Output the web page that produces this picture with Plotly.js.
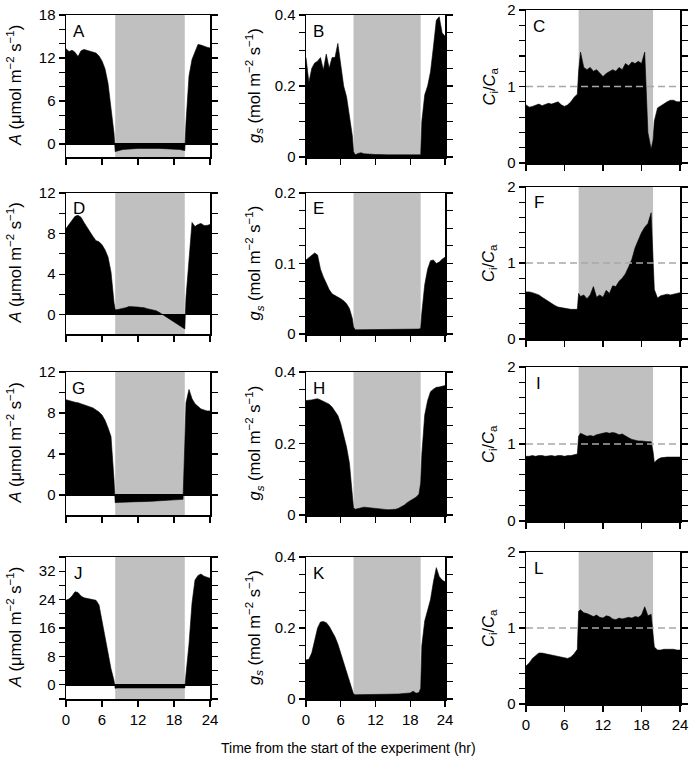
<!DOCTYPE html>
<html>
<head>
<meta charset="utf-8">
<script src="https://cdn.plot.ly/plotly-3.0.1.min.js"></script>
<style>
  body { margin: 0; background: #fff; }
  #chart { width: 696px; height: 766px; }
</style>
</head>
<body>
<div id="chart"></div>
<script>
"use strict";

// time from start of the experiment (hr), shared by all panels
var hours = [0,0.5,1,1.5,2,2.5,3,3.5,4,4.5,5,5.5,6,6.5,7,7.5,8,
  8.2,
  8.5,9,9.5,10,10.5,11,11.5,12,12.5,13,13.5,14,14.5,15,15.5,16,16.5,17,17.5,18,18.5,19,19.5,
  19.8,
  20,20.5,21,21.5,22,22.5,23,23.5,24];

// dark period (grey band)
var darkStart = 8.2;
var darkEnd = 19.8;

// A, D, G, J : net assimilation (umol m-2 s-1)
var assimA = [13.3,12.9,13.1,12.8,12.2,13.0,13.2,13.1,13.0,12.9,12.7,12.3,11.6,10.5,8.5,5.0,1.5,
  -1.05,
  -0.95,-0.85,-0.75,-0.7,-0.7,-0.65,-0.65,-0.6,-0.6,-0.62,-0.6,-0.6,-0.62,-0.6,-0.6,-0.62,-0.65,-0.65,-0.68,-0.7,-0.7,-0.75,-0.85,
  -0.9,
  3.0,9.5,11.8,13.0,13.9,13.8,13.6,13.5,13.4];
var assimD = [8.5,8.9,9.3,9.7,9.8,9.6,9.1,8.6,8.2,7.7,7.3,7.2,6.9,6.4,5.7,4.2,1.2,
  0.5,
  0.5,0.55,0.65,0.7,0.8,0.8,0.8,0.75,0.72,0.7,0.6,0.55,0.45,0.4,0.25,0.05,-0.1,-0.3,-0.5,-0.7,-0.9,-1.1,-1.3,
  -1.4,
  1.7,5.8,9.1,8.7,8.9,9.0,8.8,8.8,8.9];
var assimG = [9.3,9.2,9.1,9.05,9.0,8.9,8.85,8.75,8.65,8.5,8.3,8.1,7.8,7.3,6.55,5.7,1.5,
  -0.75,
  -0.72,-0.7,-0.7,-0.68,-0.68,-0.66,-0.66,-0.65,-0.65,-0.62,-0.62,-0.6,-0.6,-0.58,-0.56,-0.55,-0.52,-0.5,-0.5,-0.47,-0.45,-0.45,-0.42,
  5.0,
  9.0,10.3,9.4,8.9,8.6,8.4,8.3,8.2,8.2];
var assimJ = [23.8,24.2,25.0,26.2,26.0,25.0,24.5,24.3,24.2,24.1,23.8,22.5,18.0,13.6,8.2,4.5,1.2,
  -1.0,
  -0.9,-0.9,-0.85,-0.85,-0.8,-0.8,-0.8,-0.8,-0.75,-0.75,-0.8,-0.8,-0.8,-0.75,-0.75,-0.8,-0.8,-0.8,-0.85,-0.85,-0.85,-0.9,-0.9,
  -0.9,
  3.0,11.5,23.0,29.5,30.8,31.2,30.6,30.2,30.0];

// B, E, H, K : stomatal conductance (mol m-2 s-1)
var condB = [0.28,0.21,0.25,0.265,0.27,0.28,0.245,0.29,0.25,0.28,0.28,0.32,0.26,0.2,0.17,0.12,0.06,
  0.015,
  0.006,0.01,0.012,0.009,0.008,0.007,0.007,0.007,0.007,0.006,0.006,0.006,0.006,0.006,0.006,0.005,0.005,0.005,0.005,0.005,0.005,0.005,0.005,
  0.006,
  0.1,0.175,0.2,0.24,0.31,0.385,0.395,0.35,0.34];
var condE = [0.105,0.108,0.112,0.115,0.112,0.092,0.081,0.072,0.063,0.057,0.055,0.053,0.05,0.047,0.043,0.036,0.022,
  0.01,
  0.006,0.006,0.006,0.007,0.007,0.007,0.007,0.007,0.007,0.007,0.007,0.007,0.007,0.007,0.007,0.006,0.006,0.006,0.006,0.006,0.007,0.007,0.007,
  0.008,
  0.03,0.07,0.092,0.104,0.105,0.1,0.102,0.106,0.109];
var condH = [0.32,0.32,0.322,0.324,0.325,0.322,0.318,0.315,0.31,0.302,0.29,0.278,0.255,0.225,0.19,0.145,0.055,
  0.02,
  0.016,0.018,0.021,0.022,0.021,0.02,0.018,0.017,0.016,0.015,0.015,0.015,0.015,0.015,0.016,0.019,0.023,0.028,0.035,0.04,0.045,0.05,0.058,
  0.09,
  0.17,0.28,0.32,0.345,0.352,0.357,0.358,0.36,0.362];
var condK = [0.11,0.112,0.13,0.165,0.2,0.217,0.218,0.215,0.205,0.19,0.175,0.155,0.13,0.105,0.08,0.052,0.025,
  0.014,
  0.012,0.012,0.012,0.013,0.012,0.013,0.012,0.013,0.013,0.013,0.013,0.014,0.013,0.014,0.014,0.014,0.015,0.015,0.016,0.017,0.022,0.016,0.018,
  0.03,
  0.15,0.22,0.25,0.28,0.33,0.37,0.345,0.335,0.33];

// C, F, I, L : Ci/Ca
var ratioC = [0.76,0.73,0.74,0.76,0.77,0.75,0.76,0.78,0.77,0.78,0.8,0.76,0.74,0.76,0.8,0.86,0.9,
  1.2,
  1.45,1.25,1.22,1.25,1.2,1.22,1.17,1.13,1.17,1.2,1.22,1.2,1.25,1.22,1.3,1.27,1.32,1.3,1.33,1.3,1.45,0.4,0.18,
  0.3,
  0.55,0.72,0.75,0.78,0.8,0.82,0.82,0.8,0.8];
var ratioF = [0.62,0.62,0.61,0.6,0.58,0.55,0.52,0.49,0.46,0.44,0.42,0.41,0.4,0.39,0.39,0.39,0.39,
  0.6,
  0.56,0.58,0.53,0.58,0.69,0.55,0.58,0.55,0.64,0.6,0.7,0.69,0.76,0.8,0.86,0.95,1.05,1.2,1.3,1.4,1.47,1.52,1.66,
  1.1,
  0.65,0.54,0.57,0.58,0.59,0.58,0.59,0.6,0.61];
var ratioI = [0.84,0.84,0.85,0.84,0.85,0.85,0.84,0.85,0.85,0.84,0.85,0.85,0.84,0.85,0.85,0.86,0.87,
  1.1,
  1.14,1.12,1.1,1.11,1.1,1.12,1.13,1.14,1.15,1.14,1.15,1.14,1.12,1.13,1.1,1.08,1.06,1.05,1.04,1.04,1.03,1.03,1.03,
  0.9,
  0.76,0.8,0.82,0.83,0.83,0.83,0.83,0.83,0.83];
var ratioL = [0.5,0.54,0.6,0.64,0.67,0.67,0.66,0.66,0.65,0.64,0.63,0.61,0.6,0.6,0.62,0.66,0.72,
  1.22,
  1.24,1.2,1.19,1.17,1.15,1.17,1.14,1.13,1.16,1.15,1.12,1.11,1.13,1.12,1.13,1.14,1.13,1.15,1.14,1.17,1.28,1.16,1.18,
  0.85,
  0.75,0.71,0.71,0.72,0.72,0.72,0.72,0.71,0.71];

// labelled ticks and unlabelled (minor) ticks
var hourTicks = [0, 6, 12, 18, 24];
var labelsA18 = [0, 6, 12, 18],   minorA18 = [2, 4, 8, 10, 14, 16];
var labelsA12 = [0, 4, 8, 12],    minorA12 = [2, 6, 10];
var labelsA36 = [0, 8, 16, 24, 32], minorA36 = [-4, 4, 12, 20, 28, 36];
var labelsG04 = [0, 0.2, 0.4],    minorG04 = [0.05, 0.1, 0.15, 0.25, 0.3, 0.35];
var labelsG02 = [0, 0.1, 0.2],    minorG02 = [0.025, 0.05, 0.075, 0.125, 0.15, 0.175];
var labelsCi = [0, 1, 2],         minorCi = [0.2, 0.4, 0.6, 0.8, 1.2, 1.4, 1.6, 1.8];

var panels = [
  {id: 'A', y: assimA, col: 0, row: 0, range: [-1.8, 18],  lab: labelsA18, mn: minorA18},
  {id: 'B', y: condB,  col: 1, row: 0, range: [0, 0.4],    lab: labelsG04, mn: minorG04},
  {id: 'C', y: ratioC, col: 2, row: 0, range: [0, 2],      lab: labelsCi,  mn: minorCi},
  {id: 'D', y: assimD, col: 0, row: 1, range: [-1.9, 12],  lab: labelsA12, mn: minorA12},
  {id: 'E', y: condE,  col: 1, row: 1, range: [0, 0.2],    lab: labelsG02, mn: minorG02},
  {id: 'F', y: ratioF, col: 2, row: 1, range: [0, 2],      lab: labelsCi,  mn: minorCi},
  {id: 'G', y: assimG, col: 0, row: 2, range: [-1.95, 12], lab: labelsA12, mn: minorA12},
  {id: 'H', y: condH,  col: 1, row: 2, range: [0, 0.4],    lab: labelsG04, mn: minorG04},
  {id: 'I', y: ratioI, col: 2, row: 2, range: [0, 2],      lab: labelsCi,  mn: minorCi},
  {id: 'J', y: assimJ, col: 0, row: 3, range: [-4, 36],    lab: labelsA36, mn: minorA36},
  {id: 'K', y: condK,  col: 1, row: 3, range: [0, 0.4],    lab: labelsG04, mn: minorG04},
  {id: 'L', y: ratioL, col: 2, row: 3, range: [0, 2],      lab: labelsCi,  mn: minorCi}
];

var yTitles = [
  '<i>A</i> (μmol m<sup>−2</sup> s<sup>−1</sup>)',
  '<i>g<sub>s</sub></i> (mol m<sup>−2</sup> s<sup>−1</sup>)',
  '<i>C</i><sub>i</sub>/<i>C</i><sub>a</sub>'
];

// pixel boxes of the panels (page is 696 x 766)
var W = 696, H = 766;
var colBox = [[66, 210], [306, 445], [526, 680]];
var rowBoxLeft = [[15, 157], [193, 334], [372, 515], [557, 699]];
var rowBoxRight = [[10, 163], [187, 339], [367, 521], [552, 704]];
var yTitleX = [14, 254, 489];

var FONT = 'Liberation Sans, Arial, Helvetica, sans-serif';

var traces = [];
var shapes = [];
var annotations = [];
var layout = {
  width: W,
  height: H,
  margin: {l: 0, r: 0, t: 0, b: 0},
  paper_bgcolor: '#fff',
  plot_bgcolor: '#fff',
  showlegend: false,
  font: {family: FONT, size: 15, color: '#000'}
};

panels.forEach(function (p, i) {
  var s = i === 0 ? '' : String(i + 1);
  var xb = colBox[p.col];
  var yb = (p.col === 2 ? rowBoxRight : rowBoxLeft)[p.row];
  var bottomRow = p.row === 3;

  traces.push({
    type: 'scatter',
    mode: 'lines',
    x: hours,
    y: p.y,
    xaxis: 'x' + s,
    yaxis: 'y' + s,
    fill: 'tozeroy',
    fillcolor: '#000',
    line: {color: '#000', width: 0.6},
    hoverinfo: 'skip'
  });

  layout['xaxis' + s] = {
    anchor: 'y' + s,
    domain: [xb[0] / W, xb[1] / W],
    range: [0, 24],
    tickmode: 'array',
    tickvals: hourTicks,
    ticktext: hourTicks.map(String),
    showticklabels: bottomRow,
    ticks: 'outside',
    ticklen: 6,
    tickwidth: 1.2,
    tickcolor: '#000',
    showline: true,
    linecolor: '#000',
    linewidth: 1.5,
    mirror: true,
    showgrid: false,
    zeroline: false,
    fixedrange: true,
    tickfont: {family: FONT, size: 15, color: '#000'}
  };

  layout['yaxis' + s] = {
    anchor: 'x' + s,
    domain: [1 - yb[1] / H, 1 - yb[0] / H],
    range: p.range,
    tickmode: 'array',
    tickvals: p.lab,
    ticktext: p.lab.map(String),
    ticks: 'outside',
    ticklen: 6,
    tickwidth: 1.2,
    tickcolor: '#000',
    minor: {
      tickmode: 'array',
      tickvals: p.mn,
      ticks: 'outside',
      ticklen: 6,
      tickwidth: 1.2,
      tickcolor: '#000',
      showgrid: false
    },
    showline: true,
    linecolor: '#000',
    linewidth: 1.5,
    mirror: 'ticks',
    showgrid: false,
    zeroline: p.col === 0,
    zerolinecolor: '#000',
    zerolinewidth: 1.5,
    fixedrange: true,
    tickfont: {family: FONT, size: 15, color: '#000'}
  };

  // dark period
  shapes.push({
    type: 'rect',
    xref: 'x' + s,
    yref: 'y' + s + ' domain',
    x0: darkStart, x1: darkEnd, y0: 0, y1: 1,
    fillcolor: '#c0c0c0',
    line: {width: 0},
    layer: 'below'
  });

  // Ci = Ca reference line
  if (p.col === 2) {
    shapes.push({
      type: 'line',
      xref: 'x' + s + ' domain',
      yref: 'y' + s,
      x0: 0, x1: 1, y0: 1, y1: 1,
      line: {color: '#a8a8a8', width: 1.5, dash: '7px,4px'},
      layer: 'above'
    });
  }

  // panel letter
  annotations.push({
    text: p.id,
    xref: 'paper', yref: 'paper',
    x: (xb[0] + 12.5) / W, y: 1 - (yb[0] + 16) / H,
    xanchor: 'center', yanchor: 'middle',
    showarrow: false,
    font: {family: FONT, size: 17, color: '#000'}
  });

  // y axis title
  annotations.push({
    text: yTitles[p.col],
    xref: 'paper', yref: 'paper',
    x: yTitleX[p.col] / W, y: 1 - (yb[0] + yb[1]) / 2 / H,
    xanchor: 'center', yanchor: 'middle',
    textangle: -90,
    showarrow: false,
    font: {family: FONT, size: 16.5, color: '#000'}
  });
});

annotations.push({
  text: 'Time from the start of the experiment (hr)',
  xref: 'paper', yref: 'paper',
  x: 348 / W, y: 1 - 748 / H,
  xanchor: 'center', yanchor: 'middle',
  showarrow: false,
  font: {family: FONT, size: 14, color: '#000'}
});

layout.shapes = shapes;
layout.annotations = annotations;

Plotly.newPlot('chart', traces, layout, {displayModeBar: false, staticPlot: true});
</script>
</body>
</html>
